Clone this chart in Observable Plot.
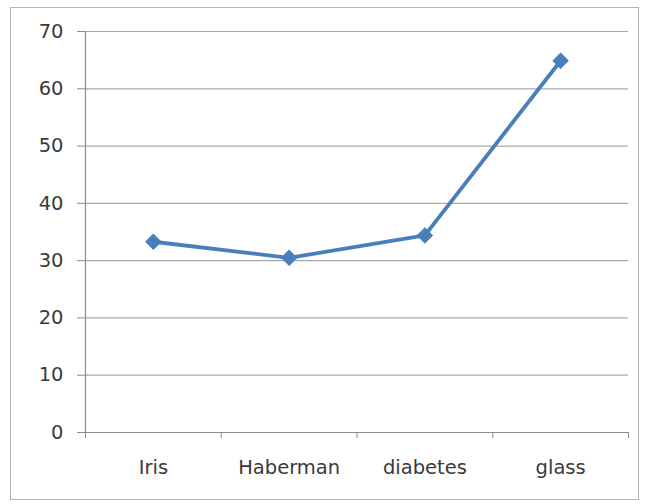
<!DOCTYPE html>
<html>
<head>
<meta charset="utf-8">
<script src="https://cdn.jsdelivr.net/npm/d3@7"></script>
<script src="https://cdn.jsdelivr.net/npm/@observablehq/plot@0.6"></script>
<style>
  html, body { margin: 0; padding: 0; background: #fff; }
  #chart { position: relative; width: 648px; height: 504px; }
  #chart .border {
    position: absolute; left: 10px; top: 7px; width: 629px; height: 493px;
    border: 1.5px solid #b4b4b4; pointer-events: none; box-sizing: border-box;
  }
  svg { font-family: "DejaVu Sans", sans-serif; }
</style>
</head>
<body>
<div id="chart"><div class="border"></div></div>
<script>
// Datasets and their values
const categories = ["Iris", "Haberman", "diabetes", "glass"];
const values = [33.3, 30.5, 34.4, 64.9];
const yTicks = [0, 10, 20, 30, 40, 50, 60, 70];

// Each category sits at the middle of its slot; slot edges carry the tick marks
const data = categories.map((name, i) => ({name, pos: i + 0.5, value: values[i]}));
const slotEdges = d3.range(categories.length + 1);
const slotCentres = data.map(d => d.pos);

const chart = Plot.plot({
  width: 648,
  height: 504,
  marginLeft: 85,
  marginRight: 20,
  marginTop: 31,
  marginBottom: 72,
  style: {fontSize: "19.5px", color: "#3a3a3a", fontFamily: "DejaVu Sans, sans-serif", background: "transparent"},
  x: {domain: [0, categories.length]},
  y: {domain: [0, 70]},
  marks: [
    Plot.ruleY(yTicks.filter(t => t > 0), {stroke: "#a8a8a8", strokeWidth: 1.2}),
    Plot.axisY({ticks: yTicks, tickSize: 8, tickPadding: 14, stroke: "#8c8c8c", tickFormat: d => d, label: null}),
    Plot.axisX({ticks: slotEdges, tickSize: 6, stroke: "#8c8c8c", tickFormat: () => "", label: null}),
    Plot.axisX({ticks: slotCentres, tickSize: 0, tickPadding: 28, tickFormat: d => categories[d - 0.5], label: null}),
    Plot.ruleX([0], {stroke: "#8c8c8c", strokeWidth: 1.2}),
    Plot.ruleY([0], {stroke: "#8c8c8c", strokeWidth: 1.2}),
    Plot.line(data, {x: "pos", y: "value", stroke: "#4a7ebb", strokeWidth: 3.8}),
    Plot.dot(data, {x: "pos", y: "value", symbol: "diamond2", r: 7, fill: "#4a7ebb", stroke: "#4a7ebb", strokeWidth: 1})
  ]
});

document.getElementById("chart").prepend(chart);
</script>
</body>
</html>
